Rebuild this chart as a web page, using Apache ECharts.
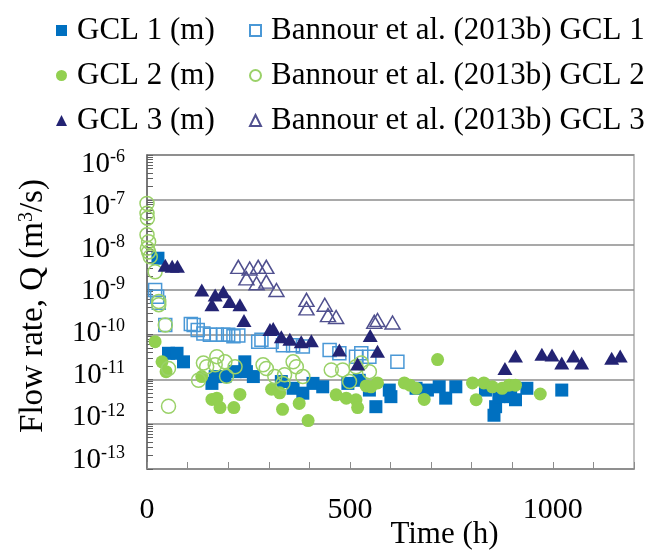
<!DOCTYPE html>
<html><head><meta charset="utf-8">
<script src="https://cdn.jsdelivr.net/npm/echarts@6/dist/echarts.min.js"></script>
<style>html,body{margin:0;padding:0;background:#fff}#c{width:654px;height:553px}</style>
</head><body><div id="c"></div>
<script>
// ---- data: [time (h), flow rate Q (m3/s)] ----
const seriesNames = ['GCL 1 (m)', 'Bannour et al. (2013b) GCL 1', 'GCL 2 (m)', 'Bannour et al. (2013b) GCL 2', 'GCL 3 (m)', 'Bannour et al. (2013b) GCL 3'];
const gcl1m = [[27,5.0e-9],[53,3.8e-11],[74,3.8e-11],[90,2.45e-11],[160,8.1e-12],[168,1.15e-11],[192,1.15e-11],[217,1.48e-11],[241,2.45e-11],[245,1.48e-11],[262,1.15e-11],[331,8.9e-12],[360,6.3e-12],[384,4.9e-12],[409,8.1e-12],[433,6.8e-12],[495,8.1e-12],[523,9.5e-12],[548,5.75e-12],[564,2.45e-12],[597,5.75e-12],[601,4.1e-12],[663,6.3e-12],[691,5.75e-12],[720,6.8e-12],[736,3.8e-12],[761,6.8e-12],[834,5.75e-12],[855,1.58e-12],[859,2.45e-12],[867,4.1e-12],[896,4.1e-12],[908,3.5e-12],[936,6.3e-12],[1022,5.75e-12]];
const bannour1 = [[20,9.8e-10],[25,6.9e-10],[29,5.1e-10],[45,1.62e-10],[108,1.7e-10],[115,1.62e-10],[125,1.26e-10],[139,1.05e-10],[155,9.8e-11],[172,9.8e-11],[188,9.8e-11],[200,9.8e-11],[213,9.1e-11],[225,9.5e-11],[274,6.9e-11],[282,7.6e-11],[307,6.9e-11],[335,5.75e-11],[360,5.75e-11],[384,5.4e-11],[450,4.5e-11],[474,3.8e-11],[515,3.2e-11],[528,3.8e-11],[548,3.2e-11],[617,2.45e-11]];
const gcl2m = [[20,6.9e-11],[37,2.45e-11],[47,1.48e-11],[135,1.15e-11],[160,3.55e-12],[172,3.8e-12],[180,2.34e-12],[214,2.34e-12],[229,4.6e-12],[307,6.0e-12],[327,5.0e-12],[334,2.14e-12],[375,2.9e-12],[397,1.2e-12],[466,4.5e-12],[491,3.8e-12],[515,3.5e-12],[519,2.34e-12],[540,7.1e-12],[552,6.8e-12],[568,8.3e-12],[634,8.3e-12],[648,7.4e-12],[663,6.3e-12],[683,3.55e-12],[716,2.75e-11],[802,8.3e-12],[811,3.5e-12],[830,8.3e-12],[851,6.8e-12],[875,6.3e-12],[892,7.4e-12],[908,7.4e-12],[969,4.7e-12]];
const bannour2 = [[0,8.3e-8],[0,5.0e-8],[1,3.9e-8],[0,1.66e-8],[4,1.17e-8],[1,8.3e-9],[4,6.9e-9],[8,5.4e-9],[20,2.5e-9],[29,5.4e-10],[29,4.6e-10],[45,1.62e-10],[53,1.74e-11],[53,2.5e-12],[127,9.5e-12],[139,2.3e-11],[147,1.9e-11],[168,2.1e-11],[172,3.2e-11],[192,2.45e-11],[196,1.17e-11],[217,1.9e-11],[286,2.1e-11],[294,1.74e-11],[315,1.15e-11],[335,8.1e-12],[339,1.26e-11],[360,2.45e-11],[368,1.9e-11],[384,1.15e-11],[454,1.62e-11],[482,1.62e-11],[499,8.9e-12],[515,1.9e-11],[528,2.3e-11],[548,1.48e-11]];
const gcl3m = [[45,3.5e-9],[62,3.3e-9],[75,3.3e-9],[135,9.8e-10],[160,4.6e-10],[168,7.6e-10],[188,8.9e-10],[204,5.4e-10],[229,4.6e-10],[239,2.04e-10],[303,1.29e-10],[311,1.35e-10],[331,8.9e-11],[352,7.8e-11],[380,6.9e-11],[405,7.2e-11],[474,4.5e-11],[519,2.2e-11],[550,9.5e-11],[568,4.2e-11],[882,1.74e-11],[908,3.3e-11],[973,3.6e-11],[998,3.5e-11],[1022,2.3e-11],[1051,3.3e-11],[1071,2.3e-11],[1145,2.95e-11],[1166,3.3e-11]];
const bannour3 = [[225,3.2e-9],[245,1.78e-9],[253,2.95e-9],[270,1.38e-9],[274,3.2e-9],[294,3.2e-9],[294,1.5e-9],[319,9.8e-10],[393,5.9e-10],[393,3.8e-10],[438,4.6e-10],[446,2.7e-10],[466,2.45e-10],[560,1.9e-10],[568,2.1e-10],[605,1.85e-10]];
const xTickLabels = [0, 500, 1000];
const yTickExponents = [-13, -12, -11, -10, -9, -8, -7, -6];

// ---- chart ----
const FONT = '"Liberation Serif","Times New Roman",serif';
const minorTicks = [];
for (let e = -13; e < -6; e++) for (let m = 1; m < 10; m++) minorTicks.push(m * Math.pow(10, e));
minorTicks.push(1e-6);

const chart = echarts.init(document.getElementById('c'), null, {renderer: 'canvas'});
const legendText = {fontSize: 31, color: '#000', fontFamily: FONT, padding: [0, 0, 0, 5]};
const option = {
  animation: false,
  textStyle: {fontFamily: FONT},
  grid: {left: 147, right: 20, top: 155, bottom: 84, show: true, borderColor: '#c0c0c0', borderWidth: 2,
         containLabel: false, outerBoundsMode: 'none'},
  legend: [
    {orient: 'vertical', left: 51, top: 10, itemWidth: 11, itemHeight: 11, itemGap: 14,
     data: [seriesNames[0], seriesNames[2], seriesNames[4]], textStyle: legendText},
    {orient: 'vertical', left: 244, top: 10, itemWidth: 11, itemHeight: 11, itemGap: 14,
     data: [seriesNames[1], seriesNames[3], seriesNames[5]], textStyle: legendText}
  ],
  xAxis: {
    type: 'value', min: 0, max: 1200, interval: 100,
    axisLine: {lineStyle: {color: '#8c8c8c', width: 1.5}},
    axisTick: {inside: true, length: 7, lineStyle: {color: '#8c8c8c', width: 1}},
    splitLine: {show: false},
    axisLabel: {fontSize: 30, color: '#000', margin: 26, fontFamily: FONT,
      formatter: v => xTickLabels.indexOf(v) >= 0 ? String(v) : ''},
    name: 'Time (h)', nameLocation: 'middle', nameGap: 50, nameMoveOverlap: false,
    nameTextStyle: {fontSize: 31, color: '#000', fontFamily: FONT, padding: [0, 0, 0, 108]}
  },
  yAxis: [
    {
      type: 'log', logBase: 10, min: 1e-13, max: 1e-6,
      axisLine: {show: true, lineStyle: {color: '#606060', width: 1.5}},
      axisTick: {show: false},
      axisLabel: {show: false},
      splitLine: {show: true, lineStyle: {color: '#8c8c8c', width: 1.5}},
      name: 'Flow rate, Q (m{s|3}/s)', nameLocation: 'middle', nameGap: 97, nameMoveOverlap: false,
      nameTextStyle: {fontSize: 33, color: '#000', fontFamily: FONT, padding: [0, 0, 0, 12],
        rich: {s: {fontSize: 20, fontFamily: FONT, color: '#000', verticalAlign: 'top', lineHeight: 20}}}
    },
    {
      type: 'value', position: 'left', min: -13.213, max: -5.775,
      axisLine: {show: false}, axisTick: {show: false}, splitLine: {show: false},
      axisLabel: {customValues: yTickExponents, margin: 22, color: '#000',
        formatter: v => '{b|10}{s|' + v + '}',
        rich: {
          b: {fontSize: 29, fontFamily: FONT, color: '#000', lineHeight: 32},
          s: {fontSize: 18, fontFamily: FONT, color: '#000', verticalAlign: 'top', lineHeight: 18}
        }}
    },
    {
      type: 'log', logBase: 10, min: 1e-13, max: 1e-6, position: 'left',
      axisLine: {show: false}, splitLine: {show: false}, axisLabel: {show: false},
      axisTick: {show: true, inside: true, length: 6, customValues: minorTicks, lineStyle: {color: '#606060', width: 1}}
    }
  ],
  series: [
    {name: seriesNames[0], type: 'scatter', data: gcl1m, symbol: 'rect', symbolSize: 13,
     itemStyle: {color: '#0070C0', opacity: 1}},
    {name: seriesNames[1], type: 'scatter', data: bannour1, symbol: 'rect', symbolSize: 13,
     itemStyle: {color: 'rgba(255,255,255,0)', borderColor: '#4A98D6', borderWidth: 1.5, opacity: 1}},
    {name: seriesNames[2], type: 'scatter', data: gcl2m, symbol: 'circle', symbolSize: 13,
     itemStyle: {color: '#92D050', opacity: 1}},
    {name: seriesNames[3], type: 'scatter', data: bannour2, symbol: 'circle', symbolSize: 14,
     itemStyle: {color: 'rgba(255,255,255,0)', borderColor: '#9AD168', borderWidth: 1.5, opacity: 1}},
    {name: seriesNames[4], type: 'scatter', data: gcl3m, symbol: 'triangle', symbolSize: [15, 13],
     itemStyle: {color: '#232373', opacity: 1}},
    {name: seriesNames[5], type: 'scatter', data: bannour3, symbol: 'triangle', symbolSize: [15, 13],
     itemStyle: {color: 'rgba(255,255,255,0)', borderColor: '#50508F', borderWidth: 1.5, opacity: 1}}
  ]
};
chart.setOption(option);
</script></body></html>
